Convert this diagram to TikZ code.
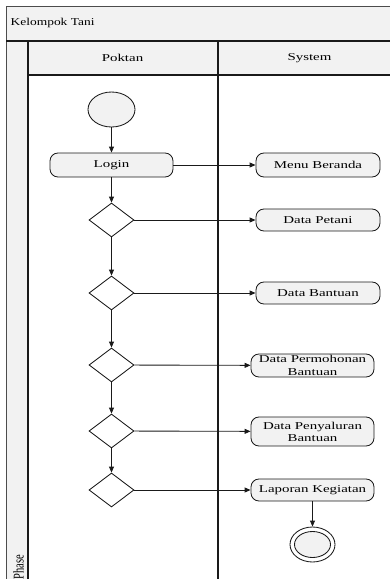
\documentclass[tikz,border=0pt]{standalone}
\usepackage{fontspec}
\setmainfont{Liberation Serif}[FakeStretch=1.42]
\newfontfamily\plainserif{Liberation Serif}
\newfontfamily\titleserif{Liberation Serif}[FakeStretch=1.28]
\usetikzlibrary{shapes.geometric,arrows.meta}
\definecolor{lanegray}{HTML}{F2F2F2}
\definecolor{linedark}{HTML}{1A1A1A}
\tikzset{
  act/.style={draw=linedark, line width=0.85pt, fill=lanegray, rounded corners=8pt,
    inner sep=0pt, minimum width=124pt, minimum height=22pt, font=\fontsize{10.5}{12}\selectfont},
  dec/.style={draw=linedark, line width=0.85pt, fill=white, diamond, inner sep=0pt,
    minimum width=45pt, minimum height=34pt},
  txt/.style={inner sep=0pt, align=center, font=\fontsize{10.5}{12.5}\selectfont},
  flow/.style={draw=linedark, line width=0.85pt, -{Triangle[length=6pt,width=5pt]}},
  lane/.style={draw=linedark, line width=1.1pt},
  frame/.style={draw=black!70, line width=0.9pt}
}
\begin{document}
\begin{tikzpicture}[x=1pt,y=-1pt]
\useasboundingbox (0,0) rectangle (390,579);
% fills
\fill[lanegray] (6,6) rectangle (392,41);
\fill[lanegray] (6,41) rectangle (28,581);
\fill[lanegray] (28,41) rectangle (392,75);
% frame lines
\draw[frame] (392,6) -- (6,6) -- (6,581);
\draw[lane] (6,41) -- (392,41);
\draw[lane] (28,41) -- (28,581);
\draw[lane] (28,75) -- (392,75);
\draw[lane] (218,41) -- (218,581);
% headings
\node[txt, anchor=west, font=\titleserif\fontsize{10.5}{12}\selectfont] (title) at (10.5,23) {Kelompok Tani};
\node[txt] (hpok) at (122.5,58) {Poktan};
\node[txt] (hsys) at (309.5,58) {System};
\node[inner sep=0pt, rotate=90, anchor=west] (phase) at (18.5,579.5)
  {\scalebox{1}[1.42]{\plainserif\fontsize{10.5}{12}\selectfont Phase}};
% start
\node[draw=linedark, line width=0.85pt, fill=lanegray, ellipse, inner sep=0pt,
  minimum width=47pt, minimum height=35pt] (start) at (111.5,109.5) {};
% Poktan column
\node[act, minimum width=123pt, minimum height=24pt] (login) at (111.5,165) {Login};
\node[dec] (d1) at (111.5,220) {};
\node[dec] (d2) at (111.5,293) {};
\node[dec] (d3) at (111.5,365) {};
\node[dec] (d4) at (111.5,431) {};
\node[dec] (d5) at (111.5,490) {};
% System column
\node[act, minimum height=24pt] (menu) at (318,165) {Menu Beranda};
\node[act] (petani) at (318,220) {Data Petani};
\node[act] (bantuan) at (318,293) {Data Bantuan};
\node[act, minimum width=123pt, minimum height=23pt] (perm) at (312.5,365.5) {};
\node[txt, font=\fontsize{10.5}{13}\selectfont] (permt) at (312.5,365.5) {Data Permohonan\\Bantuan};
\node[act, minimum width=123pt, minimum height=29pt] (salur) at (312.5,431.5) {};
\node[txt, font=\fontsize{10.5}{12.5}\selectfont] (salurt) at (312.5,432) {Data Penyaluran\\Bantuan};
\node[act, minimum width=123pt] (lapor) at (312.5,490) {Laporan Kegiatan};
% end
\node[draw=linedark, line width=0.85pt, fill=white, ellipse, inner sep=0pt,
  minimum width=45pt, minimum height=35pt] (endo) at (312.5,544.5) {};
\node[draw=linedark, line width=0.85pt, fill=lanegray, ellipse, inner sep=0pt,
  minimum width=36pt, minimum height=26pt] (endi) at (endo) {};
% vertical flows
\draw[flow] (start) -- (login);
\draw[flow] (login) -- (d1);
\draw[flow] (d1) -- (d2);
\draw[flow] (d2) -- (d3);
\draw[flow] (d3) -- (d4);
\draw[flow] (d4) -- (d5);
\draw[flow] (lapor) -- (endo);
% horizontal flows
\draw[flow] (login) -- (menu);
\draw[flow] (d1) -- (petani);
\draw[flow] (d2) -- (bantuan);
\draw[flow] (d3) -- (perm);
\draw[flow] (d4) -- (salur);
\draw[flow] (d5) -- (lapor);
\end{tikzpicture}
\end{document}
